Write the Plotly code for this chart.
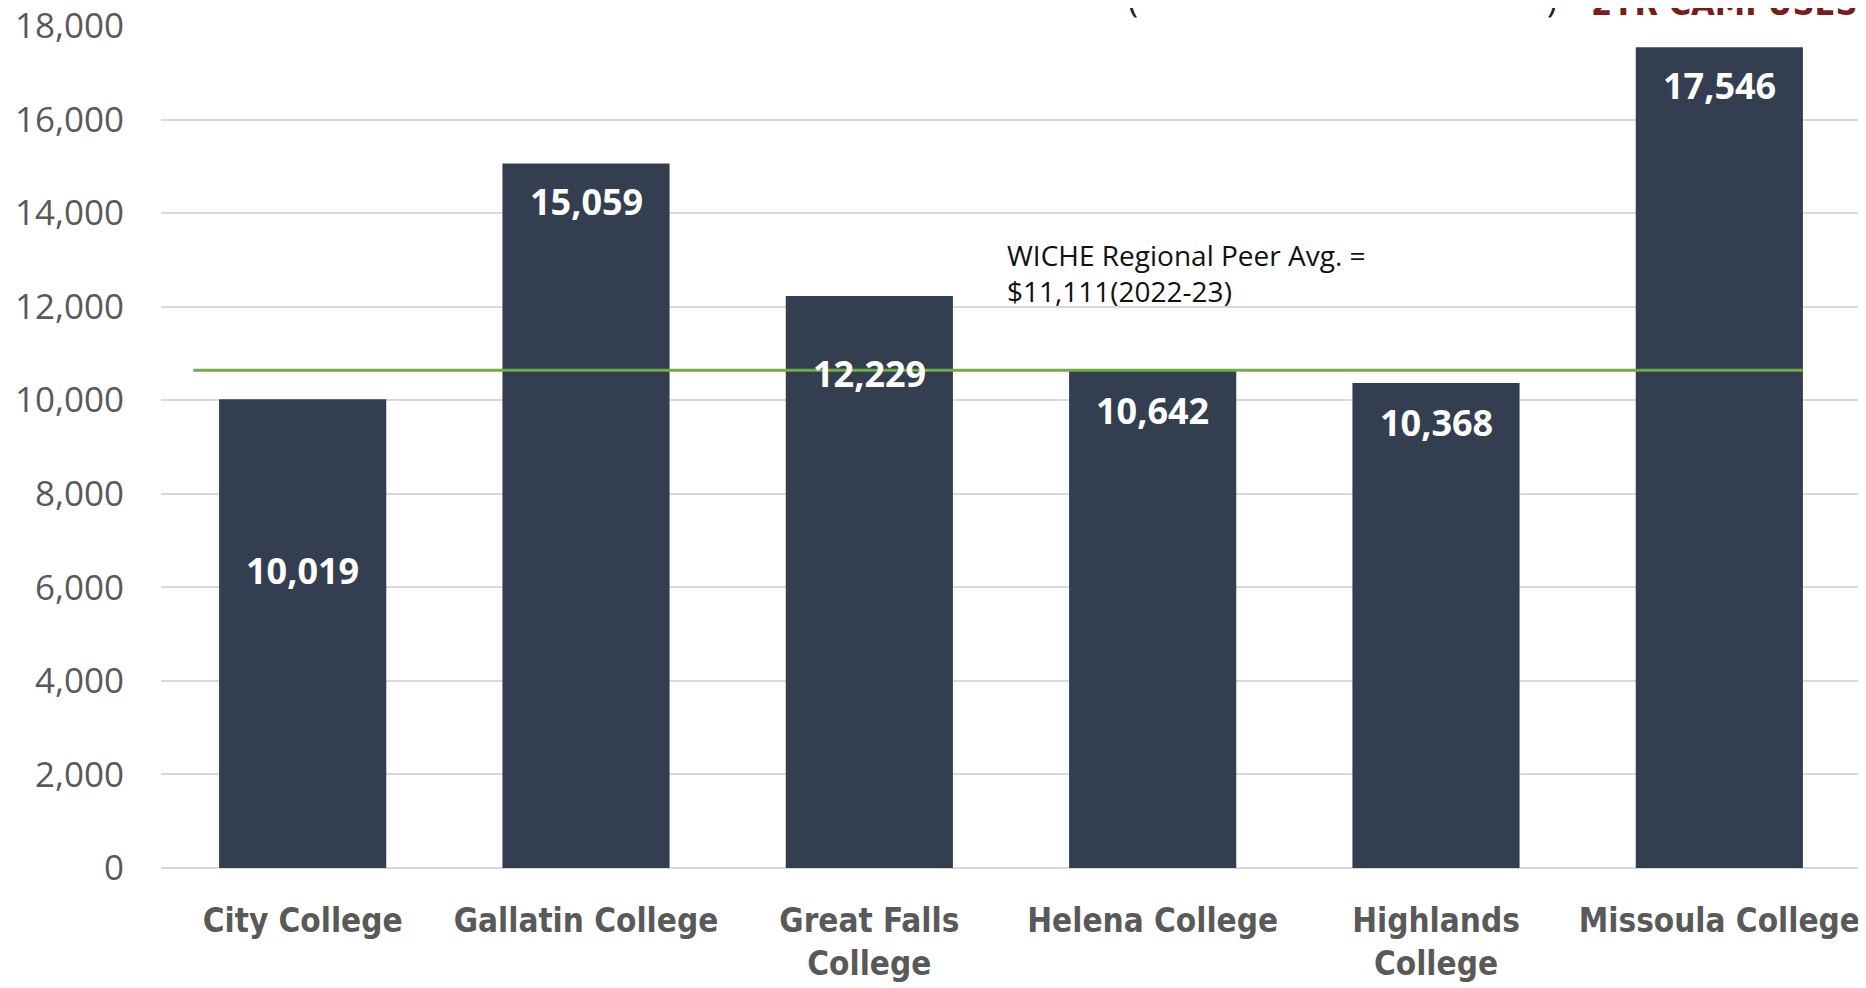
import plotly.graph_objects as go

categories = ["City College", "Gallatin College", "Great Falls<br>College",
              "Helena College", "Highlands<br>College", "Missoula College"]
values = [10019, 15059, 12229, 10642, 10368, 17546]
peer_line_value = 10642
peer_note = "WICHE Regional Peer Avg. =<br>$11,111(2022-23)"
title_fragment = "2YR CAMPUSES"
y_ticks = [0, 2000, 4000, 6000, 8000, 10000, 12000, 14000, 16000, 18000]

# style: per-bar label offsets (pixels below the bar top)
label_offsets_px = [171, 38, 78, 40, 39, 38]

cond = "DejaVu Sans Condensed, Liberation Sans Narrow, sans-serif"
bar_color = "#333F50"
fig = go.Figure()
fig.add_trace(go.Bar(x=categories, y=values, marker_color=bar_color,
                     marker_line_width=0, hoverinfo="skip"))

for c, v, off in zip(categories, values, label_offsets_px):
    fig.add_annotation(x=c, y=v, xref="x", yref="y", text=f"{v:,}",
                       showarrow=False, yanchor="middle", yshift=-off,
                       font=dict(family="Open Sans, sans-serif", size=36,
                                 color="white", weight="bold"))

fig.add_shape(type="line", xref="x", yref="y", x0=-0.386, x1=5.294,
              y0=peer_line_value, y1=peer_line_value,
              line=dict(color="#70AD47", width=3), layer="above")

fig.add_annotation(x=2.48, y=12730, xref="x", yref="y", text=peer_note,
                   showarrow=False, xanchor="left", yanchor="middle", align="left",
                   font=dict(family="Open Sans, sans-serif", size=28, color="#111111"))

# partially visible heading at the very top edge
fig.add_annotation(x=1.0, y=1.0, xref="paper", yref="paper", text=title_fragment,
                   showarrow=False, xanchor="right", yanchor="bottom", yshift=1,
                   xshift=-2,
                   font=dict(family=cond, size=34, color="#7B1C1C", weight="bold"))
for px, ch in [(0.572, "("), (0.818, ")")]:
    fig.add_annotation(x=px, y=1.0, xref="paper", yref="paper", text=ch,
                       showarrow=False, xanchor="center", yanchor="bottom", yshift=2,
                       font=dict(family="Open Sans, sans-serif", size=34, color="#222222"))

fig.update_layout(
    width=1866, height=988,
    margin=dict(l=153, r=13, t=18, b=128),
    paper_bgcolor="white", plot_bgcolor="white",
    bargap=0.41, showlegend=False,
    xaxis=dict(showgrid=False, showline=False, ticks="", ticklabelstandoff=30,
               automargin=False, ticklabeloverflow="allow",
               tickfont=dict(family=cond, size=33, color="#595959", weight="bold")),
    yaxis=dict(range=[0, 18000], tickvals=y_ticks, tickformat=",d",
               showgrid=True, gridcolor="#D9D9D9", gridwidth=1.5,
               zeroline=True, zerolinecolor="#D9D9D9", zerolinewidth=1.5,
               showline=False, ticks="", ticklabelstandoff=36, automargin=False,
               ticklabeloverflow="allow",
               tickfont=dict(family="Open Sans, sans-serif", size=35, color="#595959")),
)

fig.write_html("out.html")
